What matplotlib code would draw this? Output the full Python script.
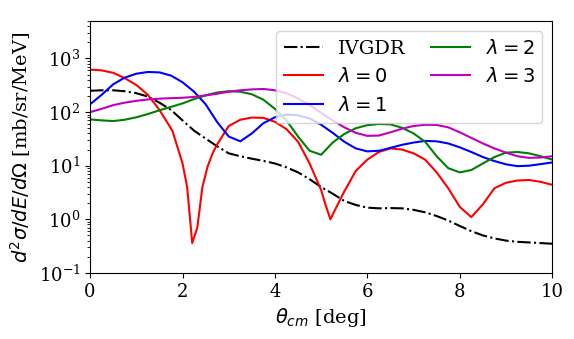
import matplotlib
matplotlib.use('Agg')
import matplotlib.pyplot as plt

plt.rcParams['font.family'] = 'serif'
plt.rcParams['font.serif'] = ['DejaVu Serif']

# angles (deg), step 0.25
theta = [0, 0.25, 0.5, 0.75, 1.0, 1.25, 1.5, 1.75, 2.0, 2.25, 2.5, 2.75,
         3.0, 3.25, 3.5, 3.75, 4.0, 4.25, 4.5, 4.75, 5.0, 5.25, 5.5, 5.75,
         6.0, 6.25, 6.5, 6.75, 7.0, 7.25, 7.5, 7.75, 8.0, 8.25, 8.5, 8.75,
         9.0, 9.25, 9.5, 9.75, 10.0]

# IVGDR (dash-dot black)
ivgdr = [250, 255, 255, 245, 225, 195, 150, 110, 70, 45, 32, 23,
         17, 15, 13.5, 12.3, 11, 9.3, 7.5, 5.6, 4.0, 3.0, 2.2, 1.85,
         1.65, 1.6, 1.62, 1.6, 1.5, 1.35, 1.15, 0.95, 0.75, 0.6, 0.5, 0.44,
         0.4, 0.38, 0.37, 0.36, 0.35]

# lambda = 0 (red), own angle list because of the sharp minima
l0_x = [0, 0.25, 0.5, 0.75, 1.0, 1.25, 1.5, 1.78, 2.0, 2.1, 2.21, 2.32,
        2.43, 2.54, 2.65, 2.75, 3.0, 3.25, 3.5, 3.75, 4.0, 4.25, 4.5, 4.75,
        5.0, 5.1, 5.2, 5.3, 5.5, 5.75, 6.0, 6.25, 6.5, 6.75, 7.0, 7.25,
        7.5, 7.75, 8.0, 8.25, 8.5, 8.75, 9.0, 9.25, 9.5, 9.75, 10.0]
l0_y = [620, 600, 540, 430, 320, 210, 110, 45, 11, 4.0, 0.36, 0.7,
        4.0, 9.5, 17, 25, 55, 72, 79, 78, 66, 48, 28, 11,
        3.5, 1.8, 1.0, 1.5, 3.3, 8, 13, 18, 21, 20, 17, 13,
        7.5, 3.8, 1.7, 1.1, 1.9, 3.8, 4.8, 5.3, 5.4, 5.0, 4.4]

# lambda = 1 (blue)
l1 = [140, 210, 330, 440, 520, 560, 550, 480, 360, 240, 140, 65,
      35, 28.5, 40, 62, 80, 90, 87, 76, 58, 41, 28, 21,
      18.5, 19, 21.5, 24.5, 27, 29, 28.5, 26, 22, 18, 14.5, 12.2,
      10.6, 9.8, 10, 10.7, 11.5]

# lambda = 2 (green)
l2 = [73, 70, 68, 72, 80, 92, 108, 125, 145, 175, 205, 232,
      245, 240, 215, 170, 115, 70, 35, 19, 16, 27, 39, 50,
      57, 60, 59, 51, 40, 28, 15, 9, 7.5, 8.3, 11, 14.5,
      17.5, 18, 17, 15, 13]

# lambda = 3 (magenta)
l3 = [100, 115, 135, 150, 162, 172, 178, 182, 185, 192, 205, 220,
      240, 255, 265, 270, 255, 225, 180, 135, 97, 70, 52, 41,
      36, 36.5, 42, 49, 55, 58, 57.5, 52, 42, 33, 26, 21,
      17.5, 15, 14, 14.2, 15]

fig = plt.figure(figsize=(5.74, 3.39), dpi=100)
ax = fig.add_axes([0.157, 0.195, 0.805, 0.743])

ax.plot(theta, ivgdr, 'k-.', lw=1.5, label='IVGDR')
ax.plot(l0_x, l0_y, color='red', lw=1.5, label=r'$\lambda = 0$')
ax.plot(theta, l1, color='blue', lw=1.5, label=r'$\lambda = 1$')
ax.plot(theta, l2, color='green', lw=1.5, label=r'$\lambda = 2$')
ax.plot(theta, l3, color='m', lw=1.5, label=r'$\lambda = 3$')

ax.set_yscale('log')
ax.set_xlim(0, 10)
ax.set_ylim(0.1, 5000)
ax.tick_params(labelsize=13)
ax.set_xlabel(r'$\theta_{cm}$ [deg]', fontsize=14)
ax.set_ylabel(r'$d^2\sigma/dE/d\Omega$ [mb/sr/MeV]', fontsize=14)
ax.legend(loc='upper right', ncol=2, fontsize=14, columnspacing=1.3)

fig.savefig('out.png', dpi=100)
